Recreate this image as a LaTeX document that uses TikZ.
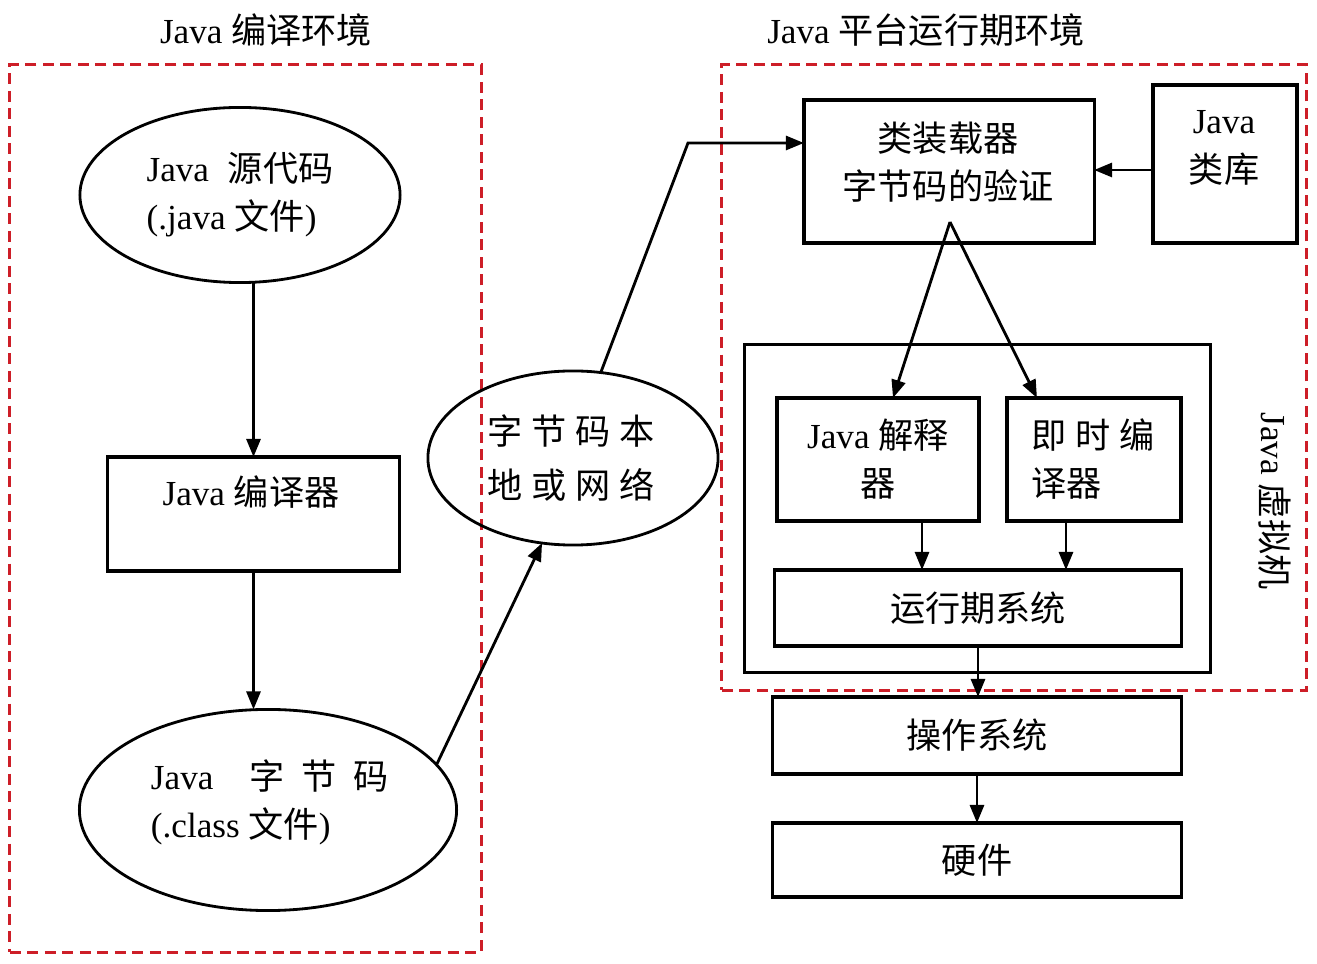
\documentclass[tikz,border=0pt]{standalone}
\usepackage{fontspec}
\setmainfont{Liberation Serif}
\newfontfamily\cjk{Noto Sans CJK SC}
\newcommand\zhtxt[1]{{\cjk #1}}
\usetikzlibrary{shapes.geometric,arrows.meta,calc}
\definecolor{envred}{RGB}{205,30,40}
\begin{document}
\begin{tikzpicture}[x=0.01cm,y=-0.01cm,
  every node/.style={font=\fontsize{10}{13.7}\selectfont},
  zh/.style={font=\fontsize{10}{13.7}\cjk},
  box/.style={draw,line width=0.9pt,inner sep=0pt,outer sep=0pt,rectangle},
  ell/.style={draw,ellipse,line width=0.8pt,inner sep=0pt,outer sep=0pt},
  arr/.style={line width=0.8pt,-{Triangle[length=0.18cm,width=0.14cm]}},
  envbox/.style={draw=envred,line width=0.9pt,dash pattern=on 0.11cm off 0.065cm,inner sep=0pt,outer sep=0pt,rectangle},
  lbl/.style={inner sep=0pt,align=center}]

\useasboundingbox (0,0) rectangle (1317,964);

% environments
\node[envbox,minimum width=4.71cm,minimum height=8.87cm] (envL) at (245.5,508.5) {};
\node[envbox,minimum width=5.84cm,minimum height=6.25cm] (envR) at (1014,377.5) {};
\node[lbl] (titleL) at (266,30) {Java \zhtxt{编译环境}};
\node[lbl] (titleR) at (926,30) {Java \zhtxt{平台运行期环境}};

% left column
\node[ell,minimum width=3.2cm,minimum height=1.75cm,align=left] (e1) at (240,195)
  {Java\hspace{0.1cm} \zhtxt{源代码}\\(.java \zhtxt{文件})};
\node[box,minimum width=2.91cm,minimum height=1.14cm] (comp) at (253.5,514) {};
\node[lbl] (compT) at (251,492) {Java \zhtxt{编译器}};
\node[ell,minimum width=3.77cm,minimum height=2.01cm] (e2) at (268,810) {};
\node[lbl,align=left] (e2T) at (270,802)
  {Java\hspace{0.36cm}\zhtxt{字}\hspace{0.17cm}\zhtxt{节}\hspace{0.17cm}\zhtxt{码}\\(.class \zhtxt{文件})};

% middle
\node[ell,minimum width=2.9cm,minimum height=1.74cm] (e3) at (573,458) {};
\node[lbl,align=left,font=\fontsize{10}{15.4}\cjk] (e3T) at (571,458)
  {字\hspace{0.09cm}节\hspace{0.09cm}码\hspace{0.09cm}本\\地\hspace{0.09cm}或\hspace{0.09cm}网\hspace{0.09cm}络};

% right
\node[box,minimum width=2.9cm,minimum height=1.43cm] (loader) at (949,171.5) {};
\node[lbl,zh] (loaderT) at (948,162) {类装载器\\字节码的验证};
\node[box,minimum width=1.44cm,minimum height=1.58cm] (lib) at (1225,164) {};
\node[lbl] (libT) at (1224,148) {Java\\\zhtxt{类库}};

\node[box,minimum width=4.65cm,minimum height=3.27cm] (jvm) at (977.5,508.5) {};
\node[box,minimum width=2.02cm,minimum height=1.23cm,align=center] (interp) at (878,459.5)
  {Java \zhtxt{解释}\\\zhtxt{器}};
\node[box,minimum width=1.74cm,minimum height=1.23cm] (jit) at (1094,459.5) {};
\node[lbl,align=left,zh] (jitT) at (1093,459) {即\hspace{0.09cm}时\hspace{0.09cm}编\\译器};
\node[box,minimum width=4.06cm,minimum height=0.76cm,zh] (runtime) at (978,608) {运行期系统};
\node[lbl,rotate=-90] (jvmT) at (1275,501) {Java \zhtxt{虚拟机}};

\node[box,minimum width=4.08cm,minimum height=0.77cm,zh] (os) at (977,735.5) {操作系统};
\node[box,minimum width=4.08cm,minimum height=0.74cm,zh] (hw) at (977,860) {硬件};

% connectors
\draw[arr] (e1.south -| comp.north) -- (comp.north);
\draw[arr] (comp.south) -- (comp.south |- e2.north);
\draw[arr] (e2.15) -- (e3.250);
\coordinate (bend) at (688,143);
\draw[arr] (e3.72) -- (bend) -- (bend -| loader.west);
\draw[arr] ([yshift=-0.06cm]lib.west) -- ([yshift=-0.06cm]lib.west -| loader.east);
\coordinate (apex) at (950,222);
\draw[arr] (apex) -- ([xshift=0.15cm]interp.north);
\draw[arr] (apex) -- ([xshift=-0.57cm]jit.north);
\draw[arr] ([xshift=0.44cm]interp.south) -- ([xshift=0.44cm]interp.south |- runtime.north);
\draw[arr] ([xshift=-0.28cm]jit.south) -- ([xshift=-0.28cm]jit.south |- runtime.north);
\draw[arr] (runtime.south) -- (runtime.south |- os.north);
\draw[arr] (os.south) -- (os.south |- hw.north);
\end{tikzpicture}
\end{document}
